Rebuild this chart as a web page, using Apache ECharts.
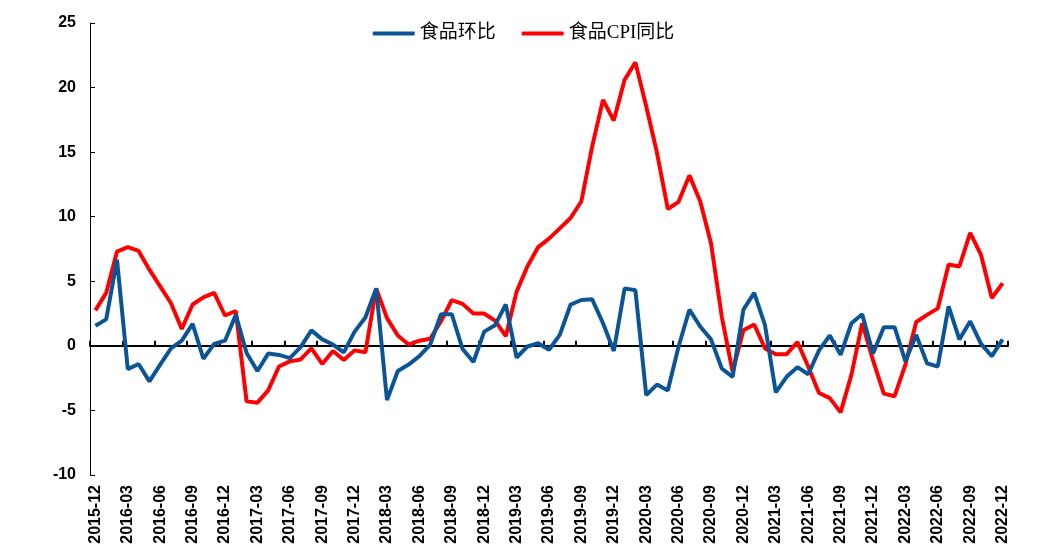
<!DOCTYPE html>
<html>
<head>
<meta charset="utf-8">
<script src="https://cdn.jsdelivr.net/npm/echarts@6/dist/echarts.min.js"></script>
<style>
  html, body { margin: 0; padding: 0; background: #fff; }
  #chart { width: 1047px; height: 556px; }
</style>
</head>
<body>
<div id="chart"></div>
<script>
// 月份 2015-12 ~ 2022-12
var months = []
for (var y = 2015; y <= 2022; y++) {
  for (var m = 1; m <= 12; m++) {
    if (y === 2015 && m < 12) continue
    months.push(y + '-' + (m < 10 ? '0' + m : m))
  }
}

var seriesNames = ['食品环比', '食品CPI同比']

var foodMom = [
  1.55, 2.05, 6.67, -1.8, -1.4, -2.75, -1.45, -0.2, 0.4, 1.7, -1.0, 0.15, 0.4,
  2.4, -0.55, -1.95, -0.6, -0.7, -0.95, -0.1, 1.2, 0.5, 0.1, -0.5, 1.1,
  2.2, 4.45, -4.2, -1.95, -1.45, -0.8, 0.1, 2.45, 2.45, -0.25, -1.25, 1.1,
  1.6, 3.2, -0.9, -0.05, 0.2, -0.3, 0.85, 3.2, 3.55, 3.6, 1.75, -0.4,
  4.45, 4.3, -3.8, -3.0, -3.45, -0.05, 2.8, 1.5, 0.5, -1.75, -2.4, 2.8,
  4.1, 1.6, -3.6, -2.4, -1.65, -2.2, -0.35, 0.8, -0.7, 1.75, 2.45, -0.6,
  1.45, 1.45, -1.2, 0.85, -1.35, -1.6, 3.05, 0.5, 1.9, 0.15, -0.8, 0.5
]

var foodYoy = [
  2.75, 4.1, 7.3, 7.65, 7.35, 5.9, 4.6, 3.3, 1.3, 3.2, 3.75, 4.1, 2.35,
  2.7, -4.3, -4.4, -3.45, -1.6, -1.2, -1.05, -0.2, -1.4, -0.4, -1.1, -0.35,
  -0.5, 4.45, 2.15, 0.8, 0.1, 0.4, 0.55, 1.9, 3.55, 3.25, 2.5, 2.5,
  1.95, 0.75, 4.2, 6.15, 7.65, 8.3, 9.1, 9.9, 11.2, 15.45, 19.05, 17.45,
  20.6, 21.95, 18.55, 14.95, 10.6, 11.15, 13.2, 11.2, 7.95, 2.25, -2.0, 1.2,
  1.65, -0.2, -0.65, -0.65, 0.3, -1.6, -3.65, -4.05, -5.15, -2.25, 1.75, -1.1,
  -3.7, -3.9, -1.45, 1.85, 2.4, 2.9, 6.3, 6.15, 8.75, 7.05, 3.7, 4.85
]

var chart = echarts.init(document.getElementById('chart'))

chart.setOption({
  animation: false,
  legend: {
    top: 19,
    left: 'center',
    icon: 'roundRect',
    itemWidth: 42,
    itemHeight: 4,
    itemGap: 26,
    textStyle: {
      fontFamily: '"Liberation Serif", "Noto Sans CJK SC", serif',
      fontSize: 19,
      color: '#000'
    },
    data: seriesNames
  },
  grid: {
    left: 90,
    right: 39,
    top: 23,
    bottom: 81
  },
  xAxis: [
    {
      type: 'category',
      data: months,
      boundaryGap: true,
      axisLine: { show: false, onZero: false },
      axisTick: { show: false },
      axisLabel: {
        interval: 2,
        rotate: 90,
        margin: 10,
        color: '#000',
        fontWeight: 'bold',
        fontSize: 16,
        fontFamily: '"Liberation Sans", Arial, sans-serif'
      }
    },
    {
      // 零轴线
      type: 'category',
      data: months,
      boundaryGap: true,
      position: 'bottom',
      axisLine: {
        onZero: true,
        lineStyle: { color: '#000', width: 2 }
      },
      axisTick: {
        show: true,
        interval: 2,
        inside: true,
        length: 5,
        lineStyle: { color: '#000', width: 2 }
      },
      axisLabel: { show: false }
    }
  ],
  yAxis: {
    type: 'value',
    min: -10,
    max: 25,
    interval: 5,
    axisLine: {
      show: true,
      lineStyle: { color: '#000', width: 1 }
    },
    axisTick: {
      show: true,
      inside: true,
      length: 5,
      lineStyle: { color: '#000' }
    },
    axisLabel: {
      margin: 14,
      color: '#000',
      fontWeight: 'bold',
      fontSize: 16,
      fontFamily: '"Liberation Sans", Arial, sans-serif'
    },
    splitLine: { show: false }
  },
  series: [
    {
      name: seriesNames[0],
      type: 'line',
      xAxisIndex: 0,
      data: foodMom,
      symbol: 'none',
      z: 3,
      lineStyle: { color: '#0B5596', width: 4 },
      itemStyle: { color: '#0B5596' }
    },
    {
      name: seriesNames[1],
      type: 'line',
      xAxisIndex: 0,
      data: foodYoy,
      symbol: 'none',
      z: 2,
      lineStyle: { color: '#FF0000', width: 4 },
      itemStyle: { color: '#FF0000' }
    }
  ]
})
</script>
</body>
</html>
